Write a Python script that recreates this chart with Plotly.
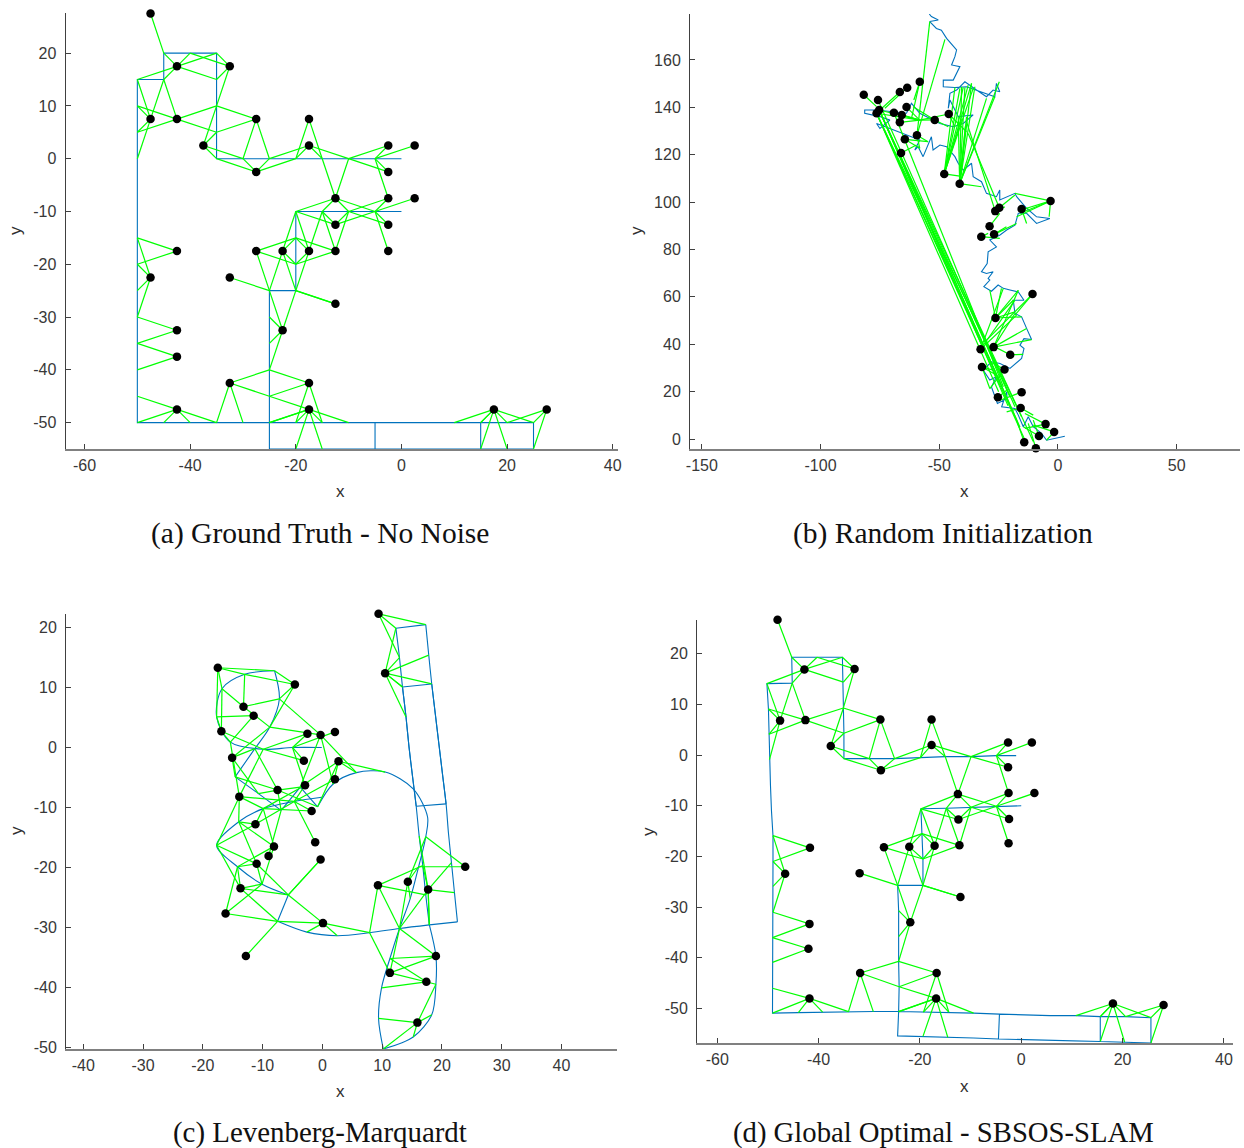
import plotly.graph_objects as go

W, H = 1244, 1148
GREEN = "#00ff00"
BLUE = "#0072bd"
AXIS = "#404040"

# ---------- panel (a) ----------
a_pose_x = [0,-5,-10,-15,-20,-25,-30,-35,-35,-35,-35,-35,-40,-45,-45,-50,-50,-50,-50,-50,-50,-50,-50,-50,-50,-50,-50,-50,-50,
            -45,-40,-35,-30,-25,-20,-15,-10,-5,0,5,10,15,20,25,25,20,15,10,5,0,-5,-5,0,5,10,15,15,10,5,0,-5,-10,-15,-20,-25,
            -25,-25,-25,-25,-25,-25,-20,-20,-20,-20,-15,-10,-5,0]
a_pose_y = [0,0,0,0,0,0,0,0,5,10,15,20,20,20,15,15,10,5,0,-5,-10,-15,-20,-25,-30,-35,-40,-45,-50,
            -50,-50,-50,-50,-50,-50,-50,-50,-50,-50,-50,-50,-50,-50,-50,-55,-55,-55,-55,-55,-55,-55,-50,-50,-50,-50,-50,-55,-55,-55,-55,-55,-55,-55,-55,-55,
            -50,-45,-40,-35,-30,-25,-25,-20,-15,-10,-10,-10,-10,-10]
a_lm_x = [-47.5,-42.5,-32.5,-47.5,-42.5,-27.5,-17.5,-37.5,-17.5,-2.5,2.5,-27.5,-2.5,-12.5,-2.5,2.5,-12.5,-2.5,
          -27.5,-22.5,-17.5,-12.5,-2.5,-42.5,-47.5,-32.5,-12.5,-42.5,-22.5,-42.5,-32.5,-17.5,-42.5,-17.5,17.5,27.5]
a_lm_y = [27.5,17.5,17.5,7.5,7.5,7.5,7.5,2.5,2.5,2.5,2.5,-2.5,-2.5,-7.5,-7.5,-7.5,-12.5,-12.5,
          -17.5,-17.5,-17.5,-17.5,-17.5,-17.5,-22.5,-22.5,-27.5,-32.5,-32.5,-37.5,-42.5,-42.5,-47.5,-47.5,-47.5,-47.5]

# pose indices seen by each landmark (shared by panels a, c, d)
lm_poses = [[13],[13,12,14,15,10,11],[11,10,12,9],[15,14,16,17,18],[14,16,17,9,8],[9,8,6,5],[4,3],[9,8,7,6],[5,4,3,2],
            [2,1],[1],[7,6,5,4],[2,1],[3,2,74,75,76,77],[1,76,77],[77],[74,75,76,77],[76,77],[73,72,70],[74,73,72,70,71],
            [74,75,73,72,71],[75,76,73,72],[77],[21,22],[21,22,23,24],[70],[71,71],[24,25],[70,71,69,68,67],[25,26],
            [67,66,31,32],[67,66,34,35],[27,28,29,30,31],[65,33,34,35,36,66,63,62],[40,41,55,42,43,46,45],[42,43,44]]

a_xticks = [-60,-40,-20,0,20,40]
a_yticks = [-50,-40,-30,-20,-10,0,10,20]

# ---------- panel (b) ----------
b_walk_x = [2.9,-4.8,-6.9,-10.4,-12.5,-14.6,-16.7,-18.1,-23.7,-21.6,-21.4,-25.5,-28,-25.9,-28.7,-31.5,-28,-24.4,-20.2,-15.3,-14.3,-16,-14.3,-11.1,
            -13.2,-15.3,-18.1,-18.8,-14.3,-16.7,-20.2,-23,-25.2,-28,-31.2,-28.7,-29.4,-27.3,-30.1,-32.2,-29.8,-29.4,-25.9,-28.7,-24.4,-21.6,-18.1,
            -16.7,-13.2,-9,-3.4,-9,-13.2,-17.4,-18.1,-24.5,-24.5,-25.9,-30.1,-32.2,-35.7,-36.4,-39.9,-42,-43.4,-46.9,-49.7,-52.6,-53.3,-56.8,-58.9,-60.3,-58.2,
            -64.5,-70.8,-76.4,-75,-70.8,-75,-81.4,-81.4,-76.4,-63.8,-61.7,-58.2,-49.7,-44.1,-39.9,-35.7,-42,-45.5,-46.2,-45.5,-42.7,-39.2,-34.3,-30.1,-27.3,-24.5,-25.9,-26.6,
            -38.5,-43.4,-48.3,-48.3,-44.1,-41.3,-44.8,-43.4,-42.7,-46.9,-49.1,-51.2,-54,-50.4,-53.3,-54.2]
b_walk_y = [1.2,-0.5,2.4,5.2,9.4,5.2,10.1,12.9,13.6,19.9,17.1,15,22,26.3,24.9,29.1,32.6,31.9,29.8,34,38.2,39.6,42.4,42,
            46.7,51.6,53,58.6,58.6,62.1,62.9,63.6,65,62.4,64.3,67.1,67.8,70.6,69.9,70.6,74.1,79,81.1,84,86.1,88.2,90.3,
            95.3,95.3,91,93.1,93.8,97.4,102.3,103.7,100.9,105.1,102.3,103.7,108.6,110.7,116.4,113.5,116.4,119.2,123.4,124.1,122,127.6,119.2,123.4,122,126.2,
            128.5,131.1,133.2,131.1,134.6,136.1,137.5,138.9,138.9,137.5,141.7,137.5,133.2,131.8,133.2,136.8,136.1,143.1,139.6,145.9,147.3,150.8,147.3,144.5,147.3,146.6,150.1,144.5,
            148.7,148.4,148.7,151.5,151.5,157.2,157.9,161.4,164.2,169.1,172.6,173.3,176.2,176.9,178.3,179.4]
b_lm_x = [-81.8,-75.8,-75.3,-76.4,-66.6,-63.5,-58.2,-63.8,-69.1,-65.8,-66.6,-51.9,-46,-59.4,-64.5,-66.1,-47.9,-41.4,-3.1,-15.3,
          -24.7,-26.4,-28.8,-26.9,-32.3,-10.7,-26.3,-27.1,-32.6,-20.1,-32,-22.5,-15.3,-25.3,-15.7,-5.2,-1.6,-8,-14.2,-9.3]
b_lm_y = [145.3,143.1,138.9,137.5,146.5,148.3,150.8,140.1,137.7,136.8,133.7,134.7,137.2,128.2,126.5,120.7,111.9,107.8,100.5,97.1,
          97.6,96.2,89.8,86.4,85.4,61.2,51.1,38.8,37.9,35.6,30.4,29.4,19.8,17.6,13.1,6.3,3,1.3,-1.3,-3.9]
b_edge_lm = [3,2,2,3,1,2,8,3,2,2,3,
             16,16,16,16,16,16,16,16,17,17,17,17,17,17,17,17,17,17,17,
             20,21,
             0,4,5,6,6,2,3,8,9,10,11,12,7,13,13,11,12,12,11,14,13,13,14,15,
             18,18,18,18,18,19,19,20,21,22,23,23,24,24,
             26,26,26,26,26,26,27,27,27,27,28,28,28,25,25,29,29,30,30,30,31,31,32,33,34,34,35,35,36,36,37,37,38,39]
b_edge_x = [-14.2,-10.4,-17.4,-15.3,-18.1,-20.2,-23,-24.4,-16,-21,-25,
            -43.4,-41.3,-39.9,-37.8,-36.4,-35.7,-41.3,-40.6,-42,-40.6,-39.2,-36.4,-35,-24.7,-26.6,-30.1,-32.2,-38.5,-39,
            -37.8,-38.5,
            -76.4,-75,-72.9,-60.7,-61.7,-58.2,-58.2,-58.2,-58.2,-58.2,-58.2,-58.2,-58.2,-54,-47.6,-61,-38.5,-43.4,-46.2,-54.7,-54.7,-58.2,-58.2,-59.6,
            -18.1,-17.4,-16,-13.2,-3.7,-12.5,-13.2,-18.1,-22.4,-24.5,-17.4,-21.7,-24.5,-29.4,
            -28.7,-23.8,-16.7,-18.8,-18.1,-15.3,-13.2,-11.1,-18.1,-16.7,-23,-18.1,-17.4,-18.1,-30.8,-26.6,-14.6,-25.9,-28.7,-27.3,-28.7,-28.7,-24.4,-21.6,-21.6,-10.4,-13.9,-13.9,-10.4,-4.8,-14.6,-10.4,-17.4,-12.5]
b_edge_y = [0.2,-1,8,9.4,13.6,17.8,22.1,24,5,14,20,
            148.4,148,148.4,149.4,150.1,148,111,135,136.1,148.7,148.4,150.1,148.7,150.8,144.5,143.8,106.5,136,132,
            129,133.9,
            140.3,138.9,139.6,143.1,135.3,134.6,134.6,134.6,134.6,134.6,134.6,134.6,134.6,176.2,168.7,140.3,129.7,131.8,131.8,125.5,125.5,122.7,122.7,124.1,
            103.7,93.8,95.3,97.4,93.8,97.4,91,103,98,95.3,91,89.6,84.7,86.8,
            62.9,63.6,62.8,58.6,53.7,51.6,46.7,42,53,62.8,63.6,58.6,52.3,52.3,41,38.9,35.7,27,21.3,29.1,32.6,21.3,16.4,20.6,11.5,10.1,10.8,4.5,5.9,-0.5,5.2,8,8,6.6]
b_xticks = [-150,-100,-50,0,50]
b_yticks = [0,20,40,60,80,100,120,140,160]

# ---------- panel (c) ----------
c_pose_x = [-0.1,-5,-9.9,-15.4,-17.7,-16.8,-13,-8,-7.2,-8.8,-11.3,-14.6,-10.7,-6.9,-3.7,-0.8,1.8,5.7,10.5,15.2,17.6,17.3,16.1,14.7,12.9,11.3,9.9,9.4,10.2,
            15.2,18.3,19,19,17.9,17.3,16.8,16.2,15.7,15.1,14.5,14,13.4,12.9,12.3,17.3,17.8,18.3,18.9,19.5,20.1,20.7,15.7,15.1,14.5,14,13.4,18.3,18.9,19.5,20.1,20.7,21.1,21.6,22.1,22.6,
            17.9,12.9,7.9,2.5,-2.6,-7.5,-5.7,-10.1,-14.2,-17.7,-14,-9.9,-4.7,-0.1]
c_pose_y = [0,0,-0.3,0.9,5.1,9.8,12.2,12.8,8.1,3.4,-0.2,-4.9,-7.7,-10.5,-6.6,-9.9,-6.1,-4.2,-4.1,-6.9,-11.6,-14.9,-19.9,-25.2,-30.2,-35.2,-40.1,-45.2,-50.3,
            -48.3,-44.6,-39.5,-34.8,-29.6,-24.6,-19.7,-14.8,-9.8,-4.9,0.1,5.1,10.1,15,19.9,20.5,15.4,10.6,5.6,0.6,-4.4,-9.4,-9.8,-5,0,5,10.1,10.6,5.5,0.5,-4.5,-9.4,-14.3,-19.2,-24.2,-29.1,
            -29.6,-30.2,-30.9,-31.4,-30.8,-29,-24.6,-22.8,-19.9,-16.3,-12.4,-10.2,-9,-8.3]
c_lm_x = [-9,-7.5,-15.1,2.7,-0.3,-13.2,-11.5,-4.6,-16.9,-2.5,2.1,-17.5,-3.1,-13.9,-2.9,2.1,-11.2,-1.8,
          -16.2,-13.7,-11,-8.1,-1.2,23.9,14.3,-12.8,-0.3,19,0.1,17.4,11.3,9.3,15.9,17.7,10.5,9.4]
c_lm_y = [-18.1,-7.1,-1.7,-2.3,2.1,6.8,5.3,10.5,2.7,2.3,2.6,13.3,-2.2,-8.2,-6.3,-5.3,-12.8,-10.6,
          -27.7,-23.5,-19.4,-16.5,-15.8,-19.9,-22.4,-34.8,-18.7,-34.8,-29.3,-39.1,-37.6,-23,-45.9,-23.7,12.4,22.3]
c_xticks = [-40,-30,-20,-10,0,10,20,30,40]
c_yticks = [-50,-40,-30,-20,-10,0,10,20]
# path indices where the estimated trajectory has a sharp corner
c_corners = [7,11,13,14,15,28,33,43,44,50,51,55,56,64,65,70,71]

# ---------- panel (d) ----------
d_pose_x = [-1,-4.9,-9.9,-15,-19.9,-25,-30,-35,-35,-35.1,-35.1,-35.3,-40.3,-45.3,-45.2,-50.2,-49.9,-49.8,-49.7,-49.5,-49.3,-49,-49,-49,-49,-49.1,-49.1,-49.1,-49.1,
            -44,-39.2,-34.1,-29.2,-24.2,-19.3,-14.3,-9.4,-4.3,0.8,5.7,10.8,15.6,20.6,25.6,25.6,20.4,15.6,10.6,5.7,0.8,-4.5,-4.3,0.8,5.7,10.8,15.6,15.6,10.6,5.7,0.8,-4.5,-9.4,-14.5,-19.4,-24.4,
            -24.2,-24.1,-24.2,-24.2,-24.2,-24.4,-19.4,-19.4,-19.6,-19.8,-14.8,-9.9,-4.9,0]
d_pose_y = [-0.1,-0.1,-0.3,-0.3,-0.5,-0.7,-0.7,-0.7,4.3,9.3,14.4,19.3,19.3,19.3,14.2,14.1,9.1,4.1,-0.9,-5.9,-11,-15.9,-21,-25.9,-31,-36,-40.9,-46,-50.9,
            -50.8,-50.7,-50.6,-50.6,-50.6,-50.7,-50.7,-50.9,-51.1,-51.3,-51.4,-51.4,-51.6,-51.6,-51.8,-56.8,-56.6,-56.5,-56.4,-56.3,-56.2,-56,-51.1,-51.3,-51.4,-51.4,-51.6,-56.5,-56.4,-56.3,-56.2,-56,-55.8,-55.7,-55.5,-55.4,
            -50.6,-45.7,-40.7,-35.8,-30.7,-25.7,-25.7,-20.5,-15.5,-10.6,-10.5,-10.3,-10.1,-10]
d_lm_x = [-48.1,-42.8,-32.9,-47.6,-42.6,-27.8,-17.7,-37.6,-17.7,-2.6,2.1,-27.7,-2.6,-12.5,-2.5,2.6,-12.4,-2.4,
          -27.1,-22.1,-17.1,-12.2,-2.5,-41.7,-46.6,-31.9,-12,-41.8,-21.9,-42,-31.8,-16.7,-41.8,-16.8,18.1,28.1]
d_lm_y = [26.7,16.9,17,6.8,6.9,7,7,1.8,2,2.5,2.5,-3,-2.4,-7.7,-7.5,-7.5,-12.7,-12.6,
          -18.2,-18.1,-17.9,-17.8,-17.4,-18.3,-23.4,-23.3,-28,-33.3,-33,-38.2,-43,-43,-48,-48,-49,-49.3]
d_xticks = [-60,-40,-20,0,20,40]
d_yticks = [-50,-40,-30,-20,-10,0,10,20]

captions = ["(a) Ground Truth - No Noise", "(b) Random Initialization",
            "(c) Levenberg-Marquardt", "(d) Global Optimal - SBSOS-SLAM"]


def pose_edges(px, py, lx, ly):
    ex, ey = [], []
    for i, plist in enumerate(lm_poses):
        for p in plist:
            ex += [lx[i], px[p], None]
            ey += [ly[i], py[p], None]
    return ex, ey


def walk_edges(elm, ex0, ey0, lx, ly):
    ex, ey = [], []
    for l, x, y in zip(elm, ex0, ey0):
        ex += [lx[l], x, None]
        ey += [ly[l], y, None]
    return ex, ey


panels = [
    dict(path=(a_pose_x, a_pose_y), lm=(a_lm_x, a_lm_y), edges=pose_edges(a_pose_x, a_pose_y, a_lm_x, a_lm_y),
         box=(65.5, 617.5, 13, 449), xr=(-63.6, 40.9), yr=(-55, 27.6), xt=a_xticks, yt=a_yticks,
         cap=(320, 533, 29.5), xlab=(340, 491), ylab=(16, 231), corners=None),
    dict(path=(b_walk_x, b_walk_y), lm=(b_lm_x, b_lm_y), edges=walk_edges(b_edge_lm, b_edge_x, b_edge_y, b_lm_x, b_lm_y),
         box=(690, 1240, 14, 449), xr=(-155, 76.7), yr=(-4.2, 179.4), xt=b_xticks, yt=b_yticks,
         cap=(943, 533, 29.5), xlab=(964, 491), ylab=(637, 231), corners=None),
    dict(path=(c_pose_x, c_pose_y), lm=(c_lm_x, c_lm_y), edges=pose_edges(c_pose_x, c_pose_y, c_lm_x, c_lm_y),
         box=(66, 617, 613.5, 1049), xr=(-42.9, 49.3), yr=(-50.3, 22.35), xt=c_xticks, yt=c_yticks,
         cap=(319.5, 1132, 28.9), xlab=(340, 1091), ylab=(16, 831), corners=c_corners),
    dict(path=(d_pose_x, d_pose_y), lm=(d_lm_x, d_lm_y), edges=pose_edges(d_pose_x, d_pose_y, d_lm_x, d_lm_y),
         box=(697, 1233, 619.5, 1043), xr=(-64, 41.8), yr=(-56.8, 26.75), xt=d_xticks, yt=d_yticks,
         cap=(943.5, 1132, 28.7), xlab=(964, 1086), ylab=(648, 832), corners=None),
]

fig = go.Figure()
layout = {}
annotations = []
LABEL = dict(family="Liberation Sans", size=17, color="#303030")
for i, p in enumerate(panels):
    n = "" if i == 0 else str(i + 1)
    xa, ya = "x" + n, "y" + n
    px_, py_ = p["path"]
    if p["corners"]:
        cuts = [0] + p["corners"] + [len(px_) - 1]
        for s, e in zip(cuts[:-1], cuts[1:]):
            fig.add_trace(go.Scatter(x=px_[s:e + 1], y=py_[s:e + 1], mode="lines", xaxis=xa, yaxis=ya,
                                     line=dict(color=BLUE, width=1.1, shape="spline", smoothing=0.9), hoverinfo="skip"))
    else:
        fig.add_trace(go.Scatter(x=px_, y=py_, mode="lines", xaxis=xa, yaxis=ya,
                                 line=dict(color=BLUE, width=1.1), hoverinfo="skip"))
    fig.add_trace(go.Scatter(x=p["edges"][0], y=p["edges"][1], mode="lines", xaxis=xa, yaxis=ya,
                             line=dict(color=GREEN, width=1.2), connectgaps=False, hoverinfo="skip"))
    fig.add_trace(go.Scatter(x=p["lm"][0], y=p["lm"][1], mode="markers", xaxis=xa, yaxis=ya, cliponaxis=False,
                             marker=dict(color="#000000", size=8.5), hoverinfo="skip"))
    l, r, t, b = p["box"]
    common = dict(showgrid=False, zeroline=False, showline=True, automargin=False,
                  ticks="inside", ticklen=5, tickwidth=1, tickcolor=AXIS,
                  tickfont=dict(family="Liberation Sans", size=16, color="#383838"),
                  tickmode="array")
    layout["xaxis" + n] = dict(domain=[l / W, r / W], range=list(p["xr"]), anchor=ya,
                               linecolor="#808080", linewidth=2, ticklabelstandoff=1,
                               tickvals=p["xt"], ticktext=[str(v) for v in p["xt"]], **common)
    layout["yaxis" + n] = dict(domain=[1 - b / H, 1 - t / H], range=list(p["yr"]), anchor=xa,
                               linecolor=AXIS, linewidth=1, ticklabelstandoff=5,
                               tickvals=p["yt"], ticktext=[str(v) for v in p["yt"]], **common)
    annotations.append(dict(text=captions[i], x=p["cap"][0] / W, y=1 - p["cap"][1] / H, xref="paper", yref="paper",
                            xanchor="center", yanchor="middle", showarrow=False,
                            font=dict(family="Liberation Serif", size=p["cap"][2], color="#111111")))
    annotations.append(dict(text="x", x=p["xlab"][0] / W, y=1 - p["xlab"][1] / H, xref="paper", yref="paper",
                            xanchor="center", yanchor="middle", showarrow=False, font=LABEL))
    annotations.append(dict(text="y", x=p["ylab"][0] / W, y=1 - p["ylab"][1] / H, xref="paper", yref="paper",
                            xanchor="center", yanchor="middle", showarrow=False, textangle=-90, font=LABEL))

fig.update_layout(width=W, height=H, margin=dict(l=0, r=0, t=0, b=0), showlegend=False,
                  paper_bgcolor="white", plot_bgcolor="white", annotations=annotations, **layout)
fig.write_html("out.html", config={"displayModeBar": False},
               post_script="document.body.style.margin='0';document.documentElement.style.overflow='hidden';")
